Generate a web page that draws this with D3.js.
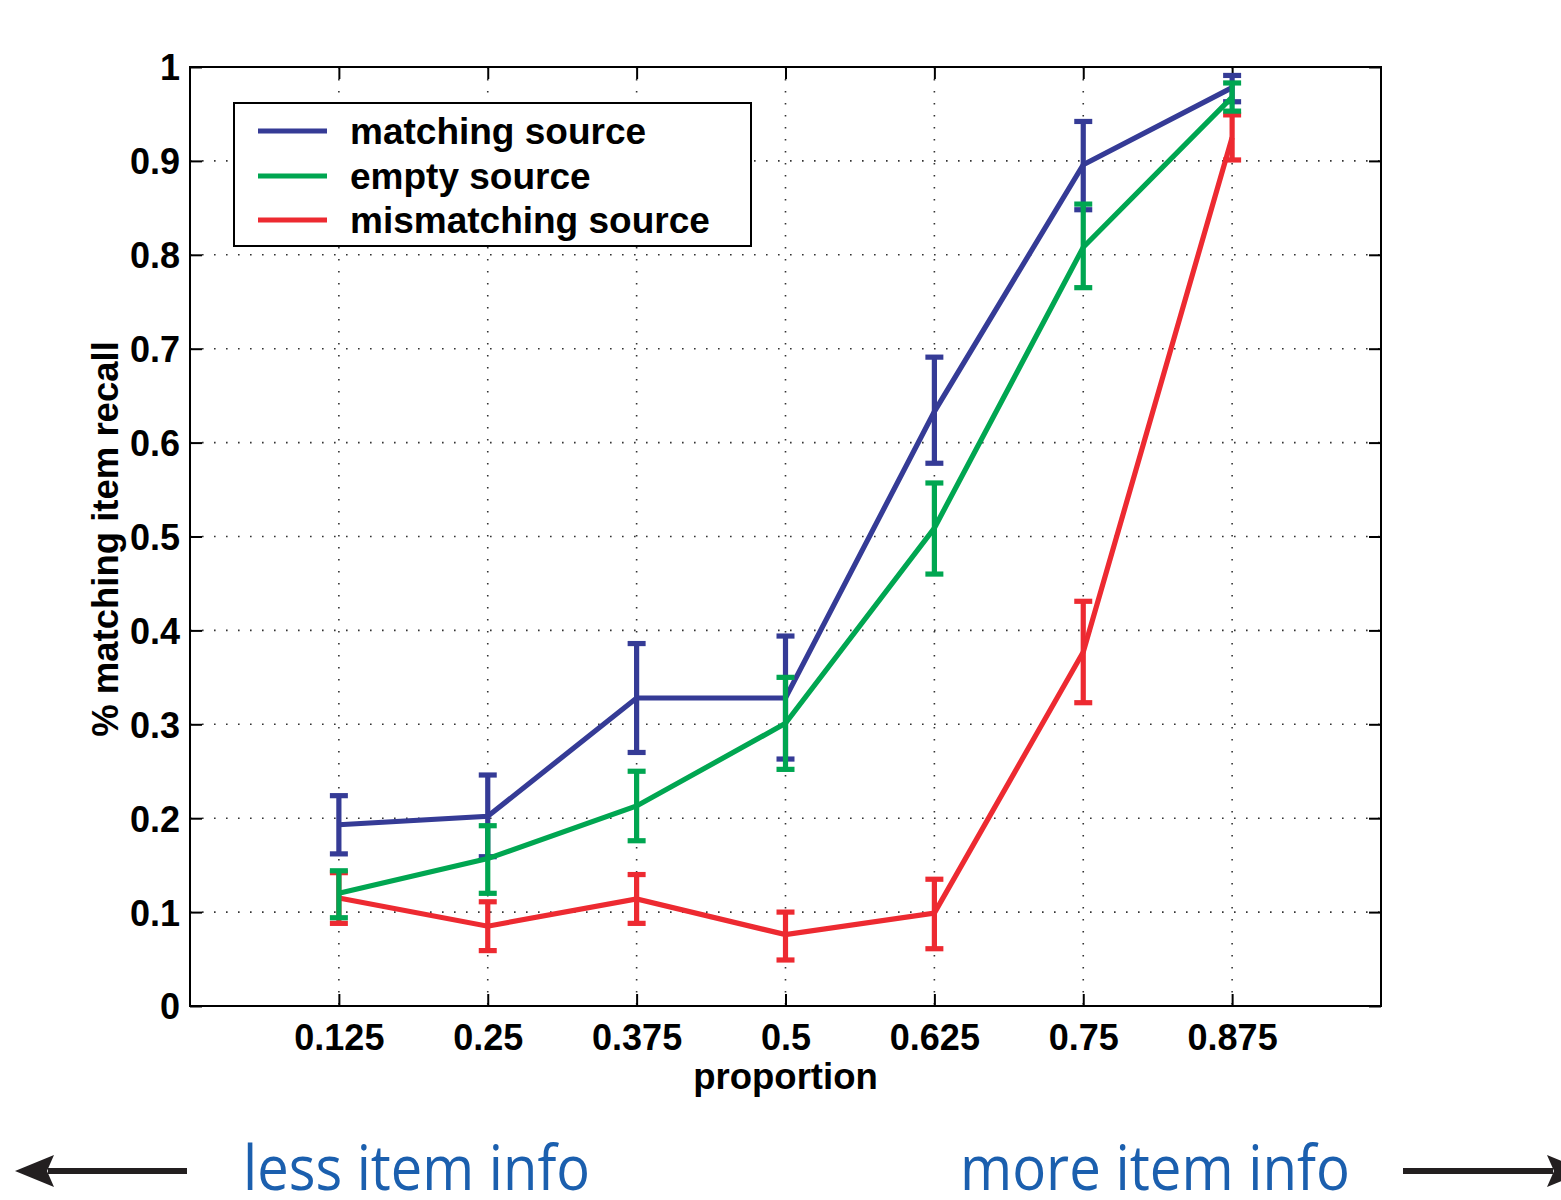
<!DOCTYPE html>
<html>
<head>
<meta charset="utf-8">
<script src="https://cdn.jsdelivr.net/npm/d3@7"></script>
<style>
  html, body { margin: 0; padding: 0; background: #fff; }
  svg { display: block; }
</style>
</head>
<body>
<svg id="chart" width="1561" height="1200"></svg>
<script>
// ---- data ----
const proportions = [0.125, 0.25, 0.375, 0.5, 0.625, 0.75, 0.875];
const xTickLabels = ["0.125", "0.25", "0.375", "0.5", "0.625", "0.75", "0.875"];
const yTicks = [0, 0.1, 0.2, 0.3, 0.4, 0.5, 0.6, 0.7, 0.8, 0.9, 1];
const yTickLabels = ["0", "0.1", "0.2", "0.3", "0.4", "0.5", "0.6", "0.7", "0.8", "0.9", "1"];

const matchingMean = [0.193, 0.202, 0.328, 0.328, 0.633, 0.896, 0.978];
const matchingLow  = [0.162, 0.159, 0.270, 0.263, 0.578, 0.848, 0.963];
const matchingHigh = [0.224, 0.246, 0.386, 0.394, 0.691, 0.942, 0.991];

const emptyMean = [0.120, 0.157, 0.213, 0.301, 0.509, 0.808, 0.968];
const emptyLow  = [0.094, 0.120, 0.176, 0.252, 0.460, 0.765, 0.953];
const emptyHigh = [0.144, 0.192, 0.250, 0.350, 0.557, 0.854, 0.983];

const mismatchMean = [0.115, 0.085, 0.114, 0.076, 0.099, 0.377, 0.925];
const mismatchLow  = [0.088, 0.059, 0.088, 0.049, 0.061, 0.323, 0.901];
const mismatchHigh = [0.142, 0.111, 0.140, 0.100, 0.135, 0.431, 0.949];

const seriesNames = ["matching source", "empty source", "mismatching source"];
const seriesColors = ["#353b96", "#00a651", "#ed2a31"];

// ---- layout ----
const svg = d3.select("#chart");
const L = 190, R = 1381, T = 67, B = 1006;
const x = d3.scaleLinear().domain([0, 1]).range([L, R]);
const y = d3.scaleLinear().domain([0, 1]).range([B, T]);
const font = "'Liberation Sans', Arial, Helvetica, sans-serif";

// grid
const grid = svg.append("g").attr("stroke", "#333").attr("stroke-width", 1.6)
  .attr("stroke-dasharray", "1.6,10.4");
grid.selectAll(".gx").data(proportions).enter().append("line")
  .attr("x1", d => x(d)).attr("x2", d => x(d)).attr("y1", T).attr("y2", B);
grid.selectAll(".gy").data(yTicks.slice(1, -1)).enter().append("line")
  .attr("y1", d => y(d)).attr("y2", d => y(d)).attr("x1", L).attr("x2", R);

// axes with inward ticks on all four sides
const tickLen = 12;
const axB = svg.append("g").attr("transform", `translate(0,${B})`)
  .call(d3.axisBottom(x).tickValues(proportions).tickSize(-tickLen).tickFormat((d, i) => xTickLabels[i]).tickPadding(18));
const axT = svg.append("g").attr("transform", `translate(0,${T})`)
  .call(d3.axisTop(x).tickValues(proportions).tickSize(-tickLen).tickFormat(""));
const axLf = svg.append("g").attr("transform", `translate(${L},0)`)
  .call(d3.axisLeft(y).tickValues(yTicks).tickSize(-tickLen).tickFormat((d, i) => yTickLabels[i]).tickPadding(10));
const axRt = svg.append("g").attr("transform", `translate(${R},0)`)
  .call(d3.axisRight(y).tickValues(yTicks).tickSize(-tickLen).tickFormat(""));
[axB, axT, axLf, axRt].forEach(a => {
  a.select(".domain").remove();
  a.selectAll(".tick line").attr("stroke", "#000").attr("stroke-width", 2);
  a.selectAll("text").attr("font-family", font).attr("font-weight", "bold")
    .attr("font-size", 36).attr("fill", "#000");
});
axB.selectAll("text").attr("dy", "0.71em");
axLf.selectAll("text").attr("dy", "0.36em");

// box
svg.append("rect").attr("x", L).attr("y", T).attr("width", R - L).attr("height", B - T)
  .attr("fill", "none").attr("stroke", "#000").attr("stroke-width", 2);

// series
const series = [
  { mean: matchingMean, low: matchingLow, high: matchingHigh, color: seriesColors[0] },
  { mean: emptyMean, low: emptyLow, high: emptyHigh, color: seriesColors[1] },
  { mean: mismatchMean, low: mismatchLow, high: mismatchHigh, color: seriesColors[2] }
];
const drawOrder = [2, 0, 1];
const capW = 9;
const line = d3.line().x(d => x(d[0])).y(d => y(d[1]));
drawOrder.forEach(si => {
  const s = series[si];
  const g = svg.append("g").attr("stroke", s.color).attr("stroke-width", 5.2).attr("fill", "none");
  const pts = proportions.map((p, i) => [p, s.mean[i], s.low[i], s.high[i]]);
  g.append("path").attr("d", line(pts)).attr("stroke-linejoin", "miter");
  const eb = g.selectAll(".eb").data(pts).enter().append("g");
  eb.append("line").attr("x1", d => x(d[0])).attr("x2", d => x(d[0]))
    .attr("y1", d => y(d[2])).attr("y2", d => y(d[3]));
  eb.append("line").attr("x1", d => x(d[0]) - capW).attr("x2", d => x(d[0]) + capW)
    .attr("y1", d => y(d[2])).attr("y2", d => y(d[2]));
  eb.append("line").attr("x1", d => x(d[0]) - capW).attr("x2", d => x(d[0]) + capW)
    .attr("y1", d => y(d[3])).attr("y2", d => y(d[3]));
});

// legend
const lg = svg.append("g");
lg.append("rect").attr("x", 234).attr("y", 103).attr("width", 517).attr("height", 143)
  .attr("fill", "#fff").attr("stroke", "#000").attr("stroke-width", 2);
const rowY = [131, 176, 220];
seriesNames.forEach((n, i) => {
  lg.append("line").attr("x1", 258).attr("x2", 327).attr("y1", rowY[i]).attr("y2", rowY[i])
    .attr("stroke", seriesColors[i]).attr("stroke-width", 5);
  lg.append("text").attr("x", 350).attr("y", rowY[i]).attr("dy", "0.36em")
    .attr("font-family", font).attr("font-weight", "bold").attr("font-size", 37)
    .attr("fill", "#000").text(n);
});

// axis labels
svg.append("text").attr("x", (x(0.5))).attr("y", 1089).attr("text-anchor", "middle")
  .attr("font-family", font).attr("font-weight", "bold").attr("font-size", 36.5).text("proportion");
svg.append("text").attr("transform", `translate(118,539) rotate(-90)`).attr("text-anchor", "middle")
  .attr("font-family", font).attr("font-weight", "bold").attr("font-size", 36.5).text("% matching item recall");

// bottom annotations
const blue = "#1b5fae";
svg.append("text").attr("x", 243).attr("y", 1190).attr("font-family", "'Open Sans', sans-serif")
  .attr("font-size", 62).attr("fill", blue).attr("textLength", 347).attr("lengthAdjust", "spacingAndGlyphs")
  .text("less item info");
svg.append("text").attr("x", 960).attr("y", 1190).attr("font-family", "'Open Sans', sans-serif")
  .attr("font-size", 62).attr("fill", blue).attr("textLength", 390).attr("lengthAdjust", "spacingAndGlyphs")
  .text("more item info");

const ay = 1171, ac = "#231f20";
svg.append("line").attr("x1", 48).attr("x2", 187).attr("y1", ay).attr("y2", ay)
  .attr("stroke", ac).attr("stroke-width", 6);
svg.append("path").attr("d", `M15,${ay} L54,${ay - 16} L47,${ay} L54,${ay + 16} Z`).attr("fill", ac);
svg.append("line").attr("x1", 1403).attr("x2", 1553).attr("y1", ay).attr("y2", ay)
  .attr("stroke", ac).attr("stroke-width", 6);
svg.append("path").attr("d", `M1586,${ay} L1547,${ay - 16} L1554,${ay} L1547,${ay + 16} Z`).attr("fill", ac);
</script>
</body>
</html>
